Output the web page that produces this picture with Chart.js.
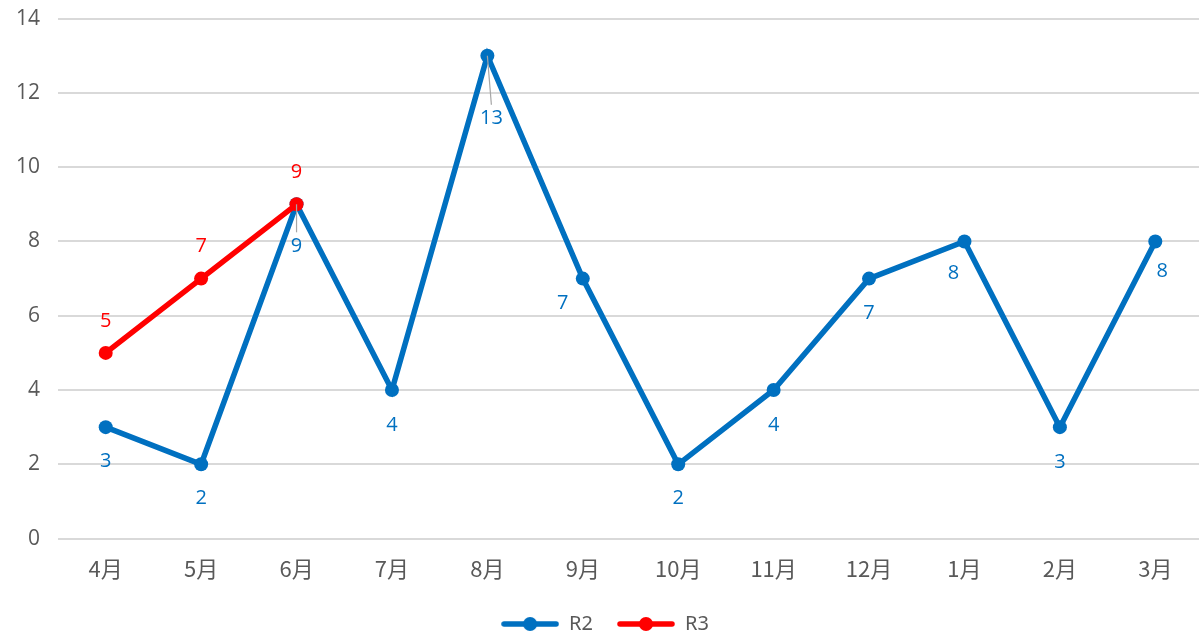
<!DOCTYPE html>
<html>
<head>
<meta charset="utf-8">
<script src="https://cdn.jsdelivr.net/npm/chart.js@4.4.1/dist/chart.umd.min.js"></script>
<style>
  html, body { margin: 0; padding: 0; background: #fff; overflow: hidden; }
  #wrap { width: 1210px; height: 652px; position: relative; top: -12px; }
</style>
</head>
<body>
<div id="wrap"><canvas id="chart"></canvas></div>
<script>
// Chart data
const months = ["4月", "5月", "6月", "7月", "8月", "9月", "10月", "11月", "12月", "1月", "2月", "3月"];
const r2Values = [3, 2, 9, 4, 13, 7, 2, 4, 7, 8, 3, 8];
const r3Values = [5, 7, 9, null, null, null, null, null, null, null, null, null];

const BLUE = "#0070C0";
const RED = "#FF0000";

// label offsets (dx, dy) in px relative to the point, plus leader flag
const r2LabelOffsets = [
    [0, 34], [0, 34], [0, 42, true], [0, 35], [4, 63, true], [-20, 25],
    [0, 34], [0, 35], [0, 35], [-11, 32], [0, 35], [7, 30]
];
const r3LabelOffsets = [[0, -32], [0, -32], [0, -32]];

// legend swatch: short line with a dot in the middle
function makeSwatch(color) {
    const c = document.createElement("canvas");
    c.width = 58; c.height = 16;
    const g = c.getContext("2d");
    g.strokeStyle = color;
    g.lineWidth = 5.5;
    g.lineCap = "round";
    g.beginPath(); g.moveTo(3, 8); g.lineTo(55, 8); g.stroke();
    g.fillStyle = color;
    g.beginPath(); g.arc(29, 8, 7, 0, Math.PI * 2); g.fill();
    return c;
}

// simple inline data label plugin
const valueLabels = {
    id: "valueLabels",
    afterDatasetsDraw(chart, args, opts) {
        const ctx = chart.ctx;
        ctx.save();
        ctx.font = "20px 'Open Sans', 'Noto Sans', sans-serif";
        ctx.textAlign = "center";
        ctx.textBaseline = "middle";
        chart.data.datasets.forEach((ds, di) => {
            const meta = chart.getDatasetMeta(di);
            const offs = opts.offsets[di];
            meta.data.forEach((pt, i) => {
                const v = ds.data[i];
                if (v === null || v === undefined) return;
                const o = offs[i] || [0, 30];
                const lx = pt.x + o[0], ly = pt.y + o[1];
                if (o[2]) {
                    ctx.strokeStyle = "#A6A6A6";
                    ctx.lineWidth = 1.2;
                    ctx.beginPath();
                    ctx.moveTo(pt.x, pt.y);
                    ctx.lineTo(lx, ly - 14);
                    ctx.stroke();
                }
                ctx.fillStyle = ds.borderColor;
                ctx.fillText(String(v), lx, ly);
            });
        });
        ctx.restore();
    }
};

new Chart(document.getElementById("chart"), {
    type: "line",
    data: {
        labels: months,
        datasets: [
            {
                label: "R2",
                data: r2Values,
                borderColor: BLUE,
                backgroundColor: BLUE,
                borderWidth: 5.5,
                pointRadius: 7,
                pointBackgroundColor: BLUE,
                pointBorderWidth: 0,
                tension: 0,
                order: 2
            },
            {
                label: "R3",
                data: r3Values,
                borderColor: RED,
                backgroundColor: RED,
                borderWidth: 5.5,
                pointRadius: 7,
                pointBackgroundColor: RED,
                pointBorderWidth: 0,
                tension: 0,
                order: 1
            }
        ]
    },
    options: {
        responsive: true,
        maintainAspectRatio: false,
        animation: false,
        layout: { padding: { top: 0, right: 0, bottom: -4, left: 0 } },
        plugins: {
            legend: {
                display: true,
                position: "bottom",
                labels: {
                    usePointStyle: true,
                    pointStyleWidth: 58,
                    boxHeight: 16,
                    padding: 24,
                    color: "#595959",
                    font: { family: "'Noto Sans', sans-serif", size: 20 },
                    generateLabels(chart) {
                        return chart.data.datasets.map((ds, i) => ({
                            text: ds.label,
                            pointStyle: makeSwatch(ds.borderColor),
                            fillStyle: ds.borderColor,
                            strokeStyle: ds.borderColor,
                            fontColor: "#595959",
                            lineWidth: 0,
                            datasetIndex: i,
                            hidden: false
                        }));
                    }
                }
            },
            tooltip: { enabled: false },
            valueLabels: { offsets: [r2LabelOffsets, r3LabelOffsets] }
        },
        scales: {
            x: {
                offset: true,
                grid: { display: false },
                border: { display: false },
                ticks: {
                    color: "#595959",
                    padding: 8.5,
                    font: { family: "'Noto Sans CJK JP', sans-serif", size: 22 }
                }
            },
            y: {
                min: 0,
                max: 14,
                afterFit(scale) { scale.width = 58; },
                grid: { color: "#D9D9D9", lineWidth: 2, drawTicks: false },
                border: { display: false },
                ticks: {
                    stepSize: 2,
                    color: "#595959",
                    padding: 18,
                    font: { family: "'Open Sans', 'Noto Sans', sans-serif", size: 21 }
                }
            }
        }
    },
    plugins: [valueLabels]
});
</script>
</body>
</html>
